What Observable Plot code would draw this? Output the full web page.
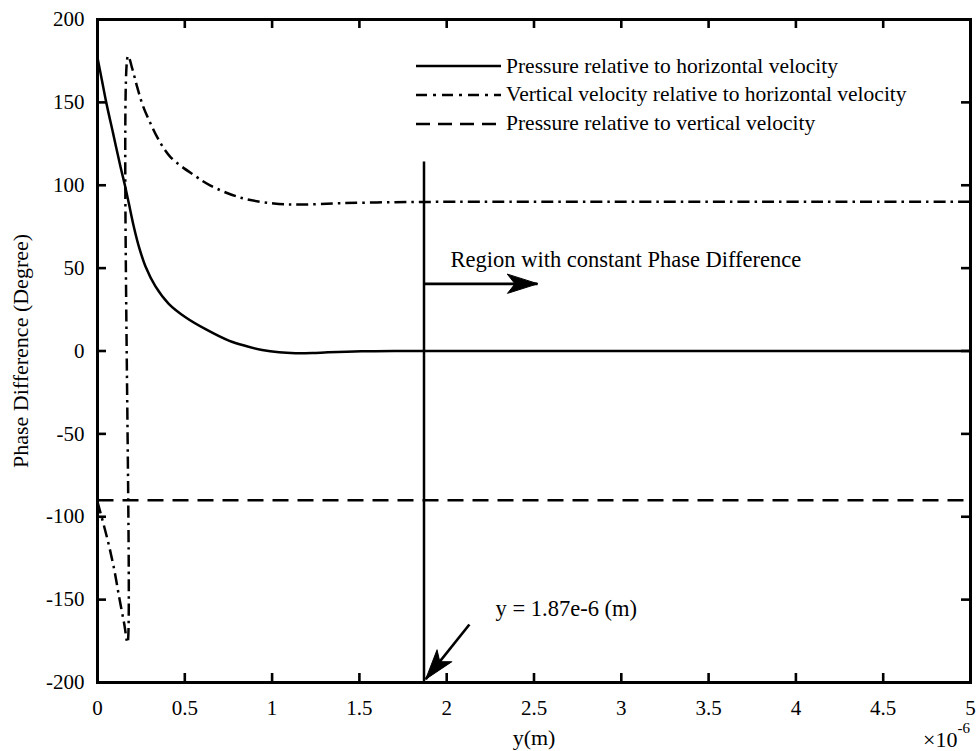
<!DOCTYPE html>
<html><head><meta charset="utf-8">
<script src="https://cdn.jsdelivr.net/npm/d3@7"></script>
<script src="https://cdn.jsdelivr.net/npm/@observablehq/plot@0.6"></script>
<style>
body{margin:0;background:#fff;}
#wrap{position:relative;width:978px;height:751px;font-family:"Liberation Serif","Times New Roman",serif;color:#000;}
#legend{position:absolute;left:416px;top:52px;font-size:21.5px;line-height:1;}
.row{display:flex;align-items:center;height:28.8px;white-space:nowrap;}
.row svg{margin-right:5px;flex:none;}
</style></head><body><div id="wrap"><div id="legend"></div></div>
<script>
// ---- data (x in units of 1e-6 m, phase in degrees) ----
const xTicks = [0, 0.5, 1, 1.5, 2, 2.5, 3, 3.5, 4, 4.5, 5];
const yTicks = [-200, -150, -100, -50, 0, 50, 100, 150, 200];
const seriesNames = [
  "Pressure relative to horizontal velocity",
  "Vertical velocity relative to horizontal velocity",
  "Pressure relative to vertical velocity"
];
// Pressure relative to horizontal velocity (solid)
const solidX = [0, 0.025, 0.05, 0.09, 0.132, 0.157, 0.18, 0.208, 0.237, 0.275, 0.332, 0.408, 0.504, 0.619, 0.752, 0.85, 0.943, 1.04, 1.134, 1.23, 1.32, 1.51, 1.7, 2, 5];
const solidY = [177, 163.5, 150, 131, 111, 100, 88.8, 75, 63, 51, 39, 28.5, 20.4, 13.2, 6.3, 3, 0.6, -0.8, -1.3, -1.2, -0.8, -0.2, 0, 0, 0];
// Vertical velocity relative to horizontal velocity (dash-dot)
const dashDotX = [0, 0.058, 0.096, 0.124, 0.153, 0.172, 0.175, 0.2, 0.228, 0.26, 0.305, 0.342, 0.418, 0.561, 0.647, 0.82, 1.01, 1.17, 1.4, 1.7, 2, 5];
const dashDotY = [-91, -114, -132, -148.5, -164.6, -176, 178, 170, 159, 148, 137, 129, 117, 105.5, 99.8, 92.5, 89, 88.4, 89.2, 89.8, 90, 90];
// Pressure relative to vertical velocity (dashed)
const dashedX = [0, 5];
const dashedY = [-90, -90];
// annotations
const markerX = 1.87;            // y = 1.87e-6 m
const markerYRange = [-200, 114];
const regionArrow = {x1: 1.87, y1: 40.5, x2: 2.52, y2: 40.5};
const pointArrow = {x1: 2.13, y1: -165, x2: 1.88, y2: -198};
const regionLabel = {x: 2.022, y: 55.2, text: "Region with constant Phase Difference"};
const pointLabel = {x: 2.28, y: -155.5, text: "y = 1.87e-6 (m)"};

// ---- build ----
const solid = solidX.map((x, i) => ({x, y: solidY[i]}));
const dashDot = dashDotX.map((x, i) => ({x, y: dashDotY[i]}));
const dashed = dashedX.map((x, i) => ({x, y: dashedY[i]}));

const W = 978, H = 751, mL = 97, mR = 8, mT = 19, mB = 69;
const FW = W - mL - mR, FH = H - mT - mB, TL = 9;
const xDomain = [0, 5], yDomain = [-200, 200];
const sx = Plot.scale({x: {domain: xDomain, range: [mL, W - mR]}});
const sy = Plot.scale({y: {domain: yDomain, range: [H - mB, mT]}});
const angleOf = a => Math.atan2(sx.apply(a.x2) - sx.apply(a.x1), -(sy.apply(a.y2) - sy.apply(a.y1))) * 180 / Math.PI;

const headShape = {draw(ctx, l) {
  const w = 9.5;
  ctx.moveTo(0, -l); ctx.lineTo(w, 0); ctx.lineTo(0, -l * 0.25); ctx.lineTo(-w, 0); ctx.closePath();
}};
const FONT = "Liberation Serif";
const SW = 2.5;

const plot = Plot.plot({
  width: W, height: H,
  marginLeft: mL, marginRight: mR, marginTop: mT, marginBottom: mB,
  style: {fontFamily: FONT, fontSize: "21px", color: "#000", background: "#fff", overflow: "visible"},
  x: {domain: xDomain, label: null},
  y: {domain: yDomain, label: null},
  marks: [
    // curves
    Plot.line(dashed, {x: "x", y: "y", stroke: "#000", strokeWidth: SW, strokeDasharray: "16,9", strokeLinecap: "butt"}),
    Plot.line(dashDot, {x: "x", y: "y", stroke: "#000", strokeWidth: SW, strokeDasharray: "12,5,2.5,5", strokeLinecap: "butt", curve: "catmull-rom"}),
    Plot.line(solid, {x: "x", y: "y", stroke: "#000", strokeWidth: SW, curve: "catmull-rom"}),
    // annotation: vertical marker line
    Plot.ruleX([markerX], {y1: markerYRange[0], y2: markerYRange[1], stroke: "#000", strokeWidth: SW}),
    // arrows
    Plot.link([regionArrow], {x1: "x1", y1: "y1", x2: "x2", y2: "y2", stroke: "#000", strokeWidth: 2.6}),
    Plot.vector([regionArrow], {x: "x2", y: "y2", length: 30, rotate: angleOf(regionArrow), anchor: "end", shape: headShape, fill: "#000", stroke: "#000", strokeWidth: 1}),
    Plot.link([pointArrow], {x1: "x1", y1: "y1", x2: "x2", y2: "y2", stroke: "#000", strokeWidth: 2.6}),
    Plot.vector([pointArrow], {x: "x2", y: "y2", length: 30, rotate: angleOf(pointArrow), anchor: "end", shape: headShape, fill: "#000", stroke: "#000", strokeWidth: 1}),
    Plot.text([regionLabel], {x: "x", y: "y", text: "text", textAnchor: "start", fontSize: 22.5, fontFamily: FONT, fill: "#000"}),
    Plot.text([pointLabel], {x: "x", y: "y", text: "text", textAnchor: "start", fontSize: 22.5, fontFamily: FONT, fill: "#000"}),
    // inward ticks on all four sides
    Plot.ruleX(xTicks, {x: d => d, insetTop: FH - TL, stroke: "#000", strokeWidth: 2.6}),
    Plot.ruleX(xTicks, {x: d => d, insetBottom: FH - TL, stroke: "#000", strokeWidth: 2.6}),
    Plot.ruleY(yTicks, {y: d => d, insetRight: FW - TL, stroke: "#000", strokeWidth: 2.6}),
    Plot.ruleY(yTicks, {y: d => d, insetLeft: FW - TL, stroke: "#000", strokeWidth: 2.6}),
    // frame
    Plot.frame({stroke: "#000", strokeWidth: 3}),
    // tick labels
    Plot.axisX({ticks: xTicks, tickSize: 0, tickPadding: 18, tickFormat: d => String(d), fontSize: 21, fontFamily: FONT, label: null}),
    Plot.axisY({ticks: yTicks, tickSize: 0, tickPadding: 13, tickFormat: d => String(d), fontSize: 21, fontFamily: FONT, label: null}),
    // axis titles
    Plot.text(["Phase Difference (Degree)"], {frameAnchor: "left", dx: -77, rotate: -90, textAnchor: "middle", lineAnchor: "middle", fontSize: 22, fontFamily: FONT, fill: "#000"}),
    Plot.text(["y(m)"], {frameAnchor: "bottom", dy: 55, textAnchor: "middle", lineAnchor: "middle", fontSize: 22, fontFamily: FONT, fill: "#000"}),
    Plot.text(["\u00d710"], {frameAnchor: "bottom-right", dx: -13, dy: 57, textAnchor: "end", lineAnchor: "middle", fontSize: 22, fontFamily: FONT, fill: "#000"}),
    Plot.text(["-6"], {frameAnchor: "bottom-right", dx: -13, dy: 46, textAnchor: "start", lineAnchor: "middle", fontSize: 15, fontFamily: FONT, fill: "#000"})
  ]
});
document.getElementById("wrap").prepend(plot);

// legend (inside the axes, top right)
const dashes = ["", "11,6,3,6", "14,8"];
const legend = document.getElementById("legend");
seriesNames.forEach((name, i) => {
  const row = document.createElement("div");
  row.className = "row";
  row.innerHTML = `<svg width="85" height="10"><line x1="0" y1="5" x2="85" y2="5" stroke="#000" stroke-width="${SW}" ${dashes[i] ? `stroke-dasharray="${dashes[i]}"` : ""}/></svg><span>${name}</span>`;
  legend.appendChild(row);
});
</script>
</body></html>
